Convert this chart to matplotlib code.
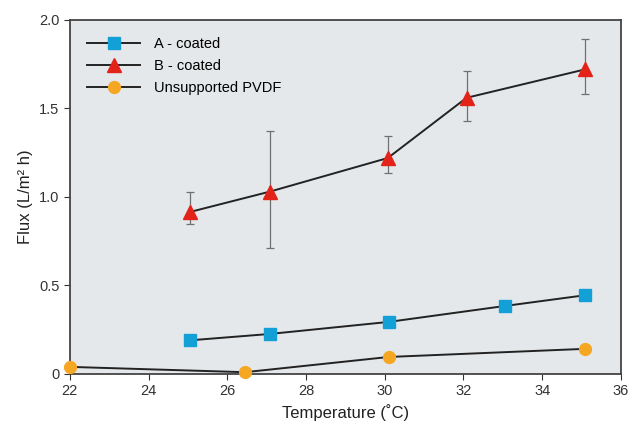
import matplotlib.pyplot as plt

plt.rcParams['font.family'] = ['Liberation Sans', 'DejaVu Sans']

# data
temp_a = [25.05, 27.08, 30.1, 33.05, 35.1]
flux_a = [0.19, 0.226, 0.294, 0.384, 0.445]

temp_b = [25.05, 27.08, 30.08, 32.08, 35.08]
flux_b = [0.915, 1.03, 1.22, 1.56, 1.72]
err_lo_b = [0.065, 0.32, 0.085, 0.13, 0.14]
err_hi_b = [0.115, 0.34, 0.125, 0.15, 0.17]

temp_p = [22.0, 26.45, 30.1, 35.1]
flux_p = [0.04, 0.01, 0.096, 0.142]

yticks = [0, 0.5, 1.0, 1.5, 2.0]
ylabels = ['0', '0.5', '1.0', '1.5', '2.0']
xticks = [22, 24, 26, 28, 30, 32, 34, 36]

fig = plt.figure(figsize=(6.29, 4.24), dpi=100)
ax = fig.add_axes([0.111, 0.118, 0.876, 0.835])
ax.set_facecolor('#e5e8ea')

ax.errorbar(temp_b, flux_b, yerr=[err_lo_b, err_hi_b], fmt='none',
            ecolor='#707070', elinewidth=0.9, capsize=3, capthick=0.9, zorder=2)

ax.plot(temp_a, flux_a, '-', color='#222222', lw=1.4, marker='s', ms=8.5,
        mfc='#12a0d6', mec='#12a0d6', label='A - coated', zorder=3, clip_on=False)
ax.plot(temp_b, flux_b, '-', color='#222222', lw=1.4, marker='^', ms=10,
        mfc='#e3231a', mec='#e3231a', label='B - coated', zorder=3, clip_on=False)
ax.plot(temp_p, flux_p, '-', color='#222222', lw=1.4, marker='o', ms=8.5,
        mfc='#f5a623', mec='#f5a623', label='Unsupported PVDF', zorder=3, clip_on=False)

ax.set_xlim(22, 36)
ax.set_ylim(0, 2.0)
ax.set_xticks(xticks)
ax.set_yticks(yticks)
ax.set_yticklabels(ylabels)
ax.tick_params(direction='out', length=4, labelsize=10.5, colors='#333333')

for s in ax.spines.values():
    s.set_color('#444444')
    s.set_linewidth(1.3)

ax.set_xlabel('Temperature (˚C)', fontsize=12, color='#222222')
ax.set_ylabel('Flux (L/m² h)', fontsize=12, color='#222222')

ax.legend(loc='upper left', frameon=False, fontsize=10.5, handlelength=3.6,
          borderaxespad=0.8, labelspacing=0.55, handletextpad=1.0)

fig.savefig('out.png', dpi=100)
